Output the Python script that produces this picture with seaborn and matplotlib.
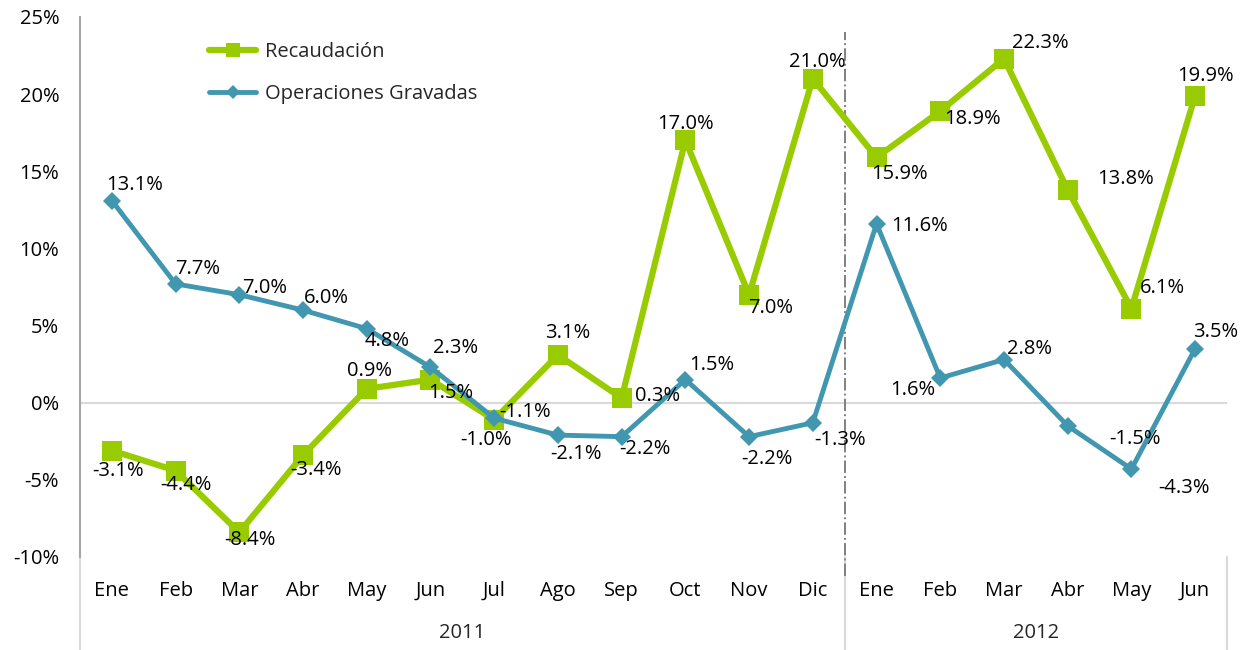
"""
plot.py — Variación interanual: Recaudación vs Operaciones Gravadas (2011-2012).
"""

import matplotlib
matplotlib.use("Agg")

import numpy as np
import pandas as pd
import matplotlib.pyplot as plt
import matplotlib.transforms as mtransforms
from matplotlib.ticker import FuncFormatter
import seaborn as sns

# ---------------------------------------------------------------------------
# Datos
# ---------------------------------------------------------------------------

months = ["Ene", "Feb", "Mar", "Abr", "May", "Jun", "Jul", "Ago", "Sep",
          "Oct", "Nov", "Dic", "Ene", "Feb", "Mar", "Abr", "May", "Jun"]
years = ["2011", "2012"]
year_sizes = [12, 6]

recaudacion = [-3.1, -4.4, -8.4, -3.4, 0.9, 1.5, -1.1, 3.1, 0.3,
               17.0, 7.0, 21.0, 15.9, 18.9, 22.3, 13.8, 6.1, 19.9]
operaciones = [13.1, 7.7, 7.0, 6.0, 4.8, 2.3, -1.0, -2.1, -2.2,
               1.5, -2.2, -1.3, 11.6, 1.6, 2.8, -1.5, -4.3, 3.5]

y_ticks = [-10, -5, 0, 5, 10, 15, 20, 25]

# desplazamientos de las etiquetas (px) — solo layout
off_rec = [(6, -20), (10, -14), (11, -8), (13, -15), (3, 18), (20, -13),
           (31, 8), (10, 22), (36, 2), (0, 16), (22, -13), (5, 17),
           (23, -17), (32, -8), (36, 16), (58, 11), (31, 21), (10, 20)]
off_ope = [(23, 16), (22, 15), (25, 7), (23, 12), (20, -12), (25, 19),
           (-8, -22), (18, -19), (23, -12), (26, 15), (18, -22), (27, -17),
           (43, -2), (-28, -12), (26, 11), (67, -13), (53, -19), (20, 17)]

GREEN = "#99CC00"
BLUE = "#4197B0"

sns.set_theme(style="white")
plt.rcParams["font.family"] = ["Open Sans", "DejaVu Sans"]

df = pd.DataFrame({
    "x": np.arange(len(months)),
    "Recaudación": recaudacion,
    "Operaciones Gravadas": operaciones,
})

fig = plt.figure(figsize=(12.48, 6.5), dpi=100)
W, H = 1248, 650
ax = fig.add_axes([80 / W, 1 - 557 / H, (1227 - 80) / W, (557 - 17) / H])

sns.lineplot(data=df, x="x", y="Recaudación", ax=ax, color=GREEN, lw=4.5,
             marker="s", markersize=14, markeredgewidth=0, label="Recaudación",
             zorder=3)
sns.lineplot(data=df, x="x", y="Operaciones Gravadas", ax=ax, color=BLUE, lw=3.5,
             marker="D", markersize=9, markeredgewidth=0,
             label="Operaciones Gravadas", zorder=4)

FS = 14.5

for i, (v, (dx, dy)) in enumerate(zip(recaudacion, off_rec)):
    ax.annotate(f"{v:.1f}%", (i, v), xytext=(dx * 0.72, dy * 0.72),
                textcoords="offset points", ha="center", va="center",
                fontsize=FS, color="black", zorder=6)
for i, (v, (dx, dy)) in enumerate(zip(operaciones, off_ope)):
    ax.annotate(f"{v:.1f}%", (i, v), xytext=(dx * 0.72, dy * 0.72),
                textcoords="offset points", ha="center", va="center",
                fontsize=FS, color="black", zorder=6)

ax.set_xlim(-0.5, len(months) - 0.5)
ax.set_ylim(-10, 25)
ax.set_yticks(y_ticks)
ax.yaxis.set_major_formatter(FuncFormatter(lambda v, _: f"{v:.0f}%"))
ax.set_xticks(np.arange(len(months)))
ax.set_xticklabels(months)
ax.tick_params(axis="both", length=0, labelsize=FS, colors="black")
ax.tick_params(axis="y", pad=15)
ax.tick_params(axis="x", pad=17)
ax.set_xlabel("")
ax.set_ylabel("")

for side in ["top", "right", "bottom"]:
    ax.spines[side].set_visible(False)
ax.spines["left"].set_color("#A6A6A6")
ax.spines["left"].set_linewidth(1.5)

ax.axhline(0, color="#D9D9D9", lw=1.5, zorder=1)

# separadores de año y etiquetas
trans = mtransforms.blended_transform_factory(ax.transData, ax.transAxes)
edges = np.concatenate([[0], np.cumsum(year_sizes)]) - 0.5
for e in edges:
    ax.plot([e, e], [0, -0.175], transform=trans, color="#D9D9D9", lw=1.5,
            clip_on=False)
for yr, a, b in zip(years, edges[:-1], edges[1:]):
    ax.text((a + b) / 2, -0.14, yr, transform=trans, ha="center", va="center",
            fontsize=FS)

ax.vlines(edges[1], -11.2, 24.0, colors="#808080", linestyles="dashdot",
          lw=1.4, zorder=2, clip_on=False)

leg = ax.legend(loc="upper left", bbox_to_anchor=(0.097, 0.988), frameon=False,
                fontsize=FS, handlelength=2.3, handletextpad=0.45,
                labelspacing=1.1, markerscale=0.75)

fig.savefig("out.png", dpi=100)
plt.close(fig)
